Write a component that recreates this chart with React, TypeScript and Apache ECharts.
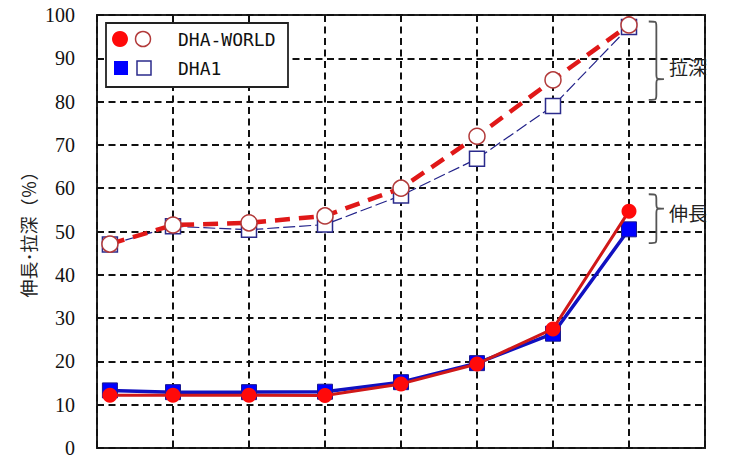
import React, { useEffect, useRef } from "react";
import * as echarts from "echarts";

const xValues = [0.17, 1, 2, 3, 4, 5, 6, 7];
const worldDrawDepth = [47.1, 51.5, 52.0, 53.6, 60.0, 72.0, 85.0, 97.7];
const dha1DrawDepth = [47.0, 51.2, 50.4, 51.6, 58.3, 66.8, 79.0, 97.2];
const worldElongation = [12.2, 12.2, 12.2, 12.1, 14.8, 19.4, 27.5, 54.7];
const dha1Elongation = [13.3, 12.9, 12.9, 13.0, 15.2, 19.6, 26.4, 50.5];
const yTicks = { min: 0, max: 100, interval: 10 };
const legendNames = ["DHA-WORLD", "DHA1"];
const yTitle = "伸長･拉深（％）";
const braceLabels = ["拉深", "伸長"];
// brace anchors in data space: [top, tip, bottom]
const braceDraw = [98.5, 85.2, 80.4];
const braceElong = [58.6, 55.3, 47.3];
const braceLabelY = [88, 54.3];

function pairs(xs: number[], ys: number[]) {
  return xs.map((x, i) => [x, ys[i]]);
}

function bracePath(x0: number, x1: number, yT: number, yM: number, yB: number) {
  const xm = (x0 + x1) / 2;
  const r = 5;
  return (
    `M${x0},${yT} C${xm},${yT} ${xm},${yT} ${xm},${yT + r} ` +
    `L${xm},${yM - r} C${xm},${yM} ${xm},${yM} ${x1},${yM} ` +
    `C${xm},${yM} ${xm},${yM} ${xm},${yM + r} ` +
    `L${xm},${yB - r} C${xm},${yB} ${xm},${yB} ${x0},${yB}`
  );
}

export default function App() {
  const ref = useRef<HTMLDivElement>(null);
  useEffect(() => {
    if (!ref.current) return;
    const chart = echarts.init(ref.current, undefined, { renderer: "svg" });
    const openCircle = {
      color: "#ffffff",
      borderColor: "#b23a3a",
      borderWidth: 1.5,
    };
    const openSquare = {
      color: "#ffffff",
      borderColor: "#2b2b8c",
      borderWidth: 1.5,
    };
    chart.setOption({
      animation: false,
      grid: {
        left: 97,
        right: 26,
        top: 15,
        bottom: 14,
        show: true,
        borderColor: "#222",
        borderWidth: 2,
        backgroundColor: "#fff",
      },
      xAxis: {
        type: "value",
        min: 0,
        max: 8,
        interval: 1,
        axisLine: { show: false },
        axisTick: { show: false },
        axisLabel: { show: false },
        splitLine: {
          show: true,
          lineStyle: { color: "#111", width: 2, type: [7, 4.5] },
        },
      },
      yAxis: {
        type: "value",
        min: yTicks.min,
        max: yTicks.max,
        interval: yTicks.interval,
        axisLine: { show: false },
        axisTick: { show: false },
        axisLabel: {
          margin: 22,
          color: "#111",
          fontFamily: "Liberation Sans Narrow",
          fontSize: 20,
        },
        splitLine: {
          show: true,
          lineStyle: { color: "#111", width: 2, type: [7, 4.5] },
        },
      },
      series: [
        {
          name: "DHA1 拉深",
          type: "line",
          data: pairs(xValues, dha1DrawDepth),
          symbol: "rect",
          symbolSize: 15,
          lineStyle: { color: "#23238a", width: 1.2, type: [12, 4] },
          itemStyle: openSquare,
          z: 2,
        },
        {
          name: "DHA-WORLD 拉深",
          type: "line",
          data: pairs(xValues, worldDrawDepth),
          symbol: "circle",
          symbolSize: 16,
          lineStyle: { color: "#e01818", width: 4.5, type: [15, 9] },
          itemStyle: openCircle,
          z: 3,
        },
        {
          name: "DHA1 伸長",
          type: "line",
          data: pairs(xValues, dha1Elongation),
          symbol: "rect",
          symbolSize: 15,
          lineStyle: { color: "#1010c0", width: 3.5 },
          itemStyle: { color: "#0000ff", borderColor: "#1a1a90", borderWidth: 1 },
          z: 4,
        },
        {
          name: "DHA-WORLD 伸長",
          type: "line",
          data: pairs(xValues, worldElongation),
          symbol: "circle",
          symbolSize: 15,
          lineStyle: { color: "#d01818", width: 3 },
          itemStyle: { color: "#ff0a0a" },
          z: 5,
        },
      ],
    });

    const px = (x: number, y: number) =>
      chart.convertToPixel({ gridIndex: 0 }, [x, y]) as number[];
    const x0 = px(7.26, 0)[0];
    const x1 = px(7.46, 0)[0];
    const bA = braceDraw.map((v) => px(0, v)[1]);
    const bB = braceElong.map((v) => px(0, v)[1]);
    echarts.graphic.registerShape(
      "braceDraw",
      echarts.graphic.extendPath(bracePath(x0, x1, bA[0], bA[1], bA[2]), {})
    );
    echarts.graphic.registerShape(
      "braceElong",
      echarts.graphic.extendPath(bracePath(x0, x1, bB[0], bB[1], bB[2]), {})
    );
    const braceStyle = { stroke: "#555", fill: "none", lineWidth: 1.8 };
    const cjk = "'Noto Sans CJK JP', sans-serif";

    chart.setOption({
      graphic: [
        { type: "braceDraw", x: 0, y: 0, style: braceStyle, z: 10 },
        { type: "braceElong", x: 0, y: 0, style: braceStyle, z: 10 },
        {
          type: "text",
          x: x1 + 5,
          y: px(0, braceLabelY[0])[1],
          style: {
            text: braceLabels[0],
            fontFamily: cjk,
            fontSize: 19,
            fill: "#222",
            verticalAlign: "middle",
          },
          z: 10,
        },
        {
          type: "text",
          x: x1 + 5,
          y: px(0, braceLabelY[1])[1],
          style: {
            text: braceLabels[1],
            fontFamily: cjk,
            fontSize: 19,
            fill: "#222",
            verticalAlign: "middle",
          },
          z: 10,
        },
        {
          type: "text",
          x: 28,
          y: 230,
          rotation: Math.PI / 2,
          style: {
            text: yTitle,
            fontFamily: cjk,
            fontSize: 18,
            fill: "#222",
            align: "center",
            verticalAlign: "middle",
          },
        },
        {
          type: "group",
          z: 20,
          children: [
            {
              type: "rect",
              shape: { x: 106, y: 23, width: 182, height: 64 },
              style: { fill: "#fff", stroke: "#222", lineWidth: 1.8 },
            },
            {
              type: "circle",
              shape: { cx: 120, cy: 39, r: 8 },
              style: { fill: "#ff0a0a" },
            },
            {
              type: "circle",
              shape: { cx: 143, cy: 39, r: 7.5 },
              style: { fill: "#fff", stroke: "#b23a3a", lineWidth: 1.5 },
            },
            {
              type: "rect",
              shape: { x: 114, y: 61, width: 14, height: 14 },
              style: { fill: "#0000ff" },
            },
            {
              type: "rect",
              shape: { x: 137, y: 61, width: 14, height: 14 },
              style: { fill: "#fff", stroke: "#2b2b8c", lineWidth: 1.5 },
            },
            {
              type: "text",
              x: 178,
              y: 39,
              style: {
                text: legendNames[0],
                fontFamily: "DejaVu Sans Mono",
                fontSize: 18,
                fill: "#111",
                verticalAlign: "middle",
              },
            },
            {
              type: "text",
              x: 178,
              y: 68,
              style: {
                text: legendNames[1],
                fontFamily: "DejaVu Sans Mono",
                fontSize: 18,
                fill: "#111",
                verticalAlign: "middle",
              },
            },
          ],
        },
      ],
    });
    return () => chart.dispose();
  }, []);
  return (
    <div
      ref={ref}
      style={{ position: "absolute", left: 0, top: 0, width: 731, height: 462 }}
    />
  );
}
